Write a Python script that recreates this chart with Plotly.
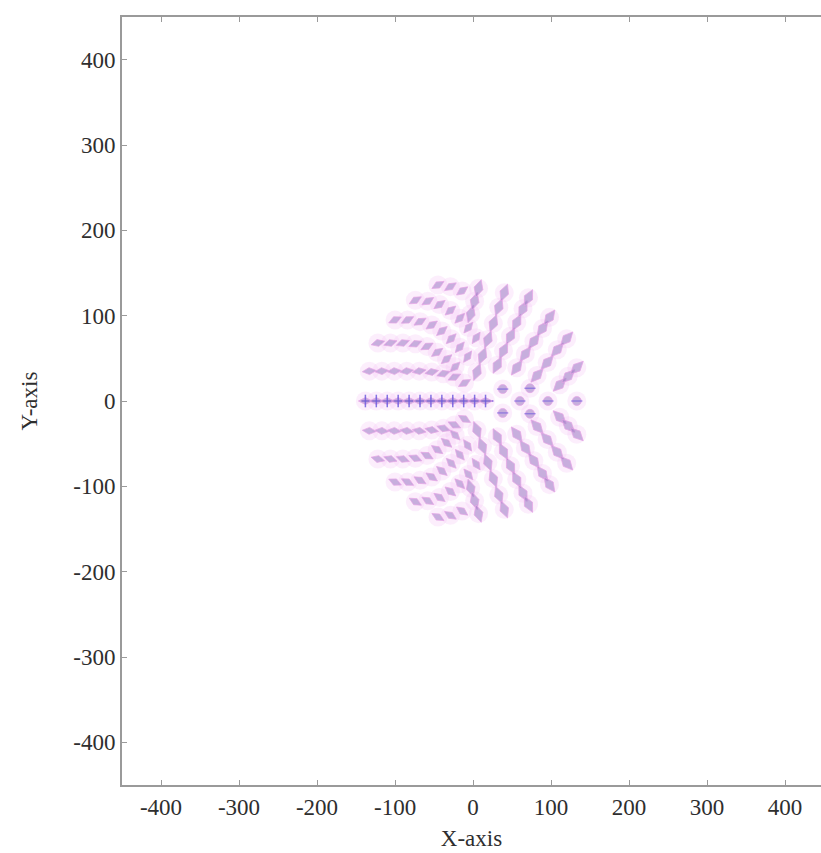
import plotly.graph_objects as go

# ---------------- data ----------------
# Centre row (y = 0), left part: dots threaded on a line
center_left_x = [-138, -124, -110, -96, -82, -68, -54, -40, -26, -12, 2, 16]
center_left_y = [0, 0, 0, 0, 0, 0, 0, 0, 0, 0, 0, 0]
center_line_x = [-143, 26]
center_line_y = [0, 0]

# Right side near the equator: round ellipses in a staggered lattice
round_x = [60, 96, 133, 38, 73, 38, 73]
round_y = [0, 0, 0, 14, 15, -14, -15]

# Left-side rows, upper half (x, y, ellipse orientation in degrees)
left_up_x = [-133, -117, -101, -85, -69, -53, -38, -24, -11,
             -122, -106, -90, -74, -59, -46, -34, -23,
             -100, -84, -68, -53, -40, -28, -17, -7,
             -74, -58, -43, -29, -17, -6, 4,
             -45, -29, -14]
left_up_y = [35, 35, 35, 35, 35, 34, 32, 28, 21,
             68, 68, 68, 67, 64, 57, 49, 40,
             95, 95, 93, 89, 82, 73, 63, 52,
             118, 117, 113, 106, 97, 86, 74,
             136, 134, 129]
left_up_dir = [5, 5, 5, 8, 10, 12, 18, 25, 30,
               15, 18, 20, 22, 28, 35, 40, 45,
               25, 28, 30, 35, 40, 45, 50, 55,
               30, 32, 36, 40, 45, 50, 55,
               30, 33, 36]

# Left-side rows, lower half
left_dn_x = [-133, -117, -101, -85, -69, -53, -38, -24, -11,
             -122, -106, -90, -74, -59, -46, -34, -23,
             -100, -84, -68, -53, -40, -28, -17, -7,
             -74, -58, -43, -29, -17, -6, 4,
             -45, -29, -14]
left_dn_y = [-35, -35, -35, -35, -35, -34, -32, -28, -21,
             -68, -68, -68, -67, -64, -57, -49, -40,
             -95, -95, -93, -89, -82, -73, -63, -52,
             -118, -117, -113, -106, -97, -86, -74,
             -136, -134, -129]
left_dn_dir = [-5, -5, -5, -8, -10, -12, -18, -25, -30,
               -15, -18, -20, -22, -28, -35, -40, -45,
               -25, -28, -30, -35, -40, -45, -50, -55,
               -30, -32, -36, -40, -45, -50, -55,
               -30, -33, -36]

# Right-side streaks, upper half
streak_up_x = [-3, 2, 7,
               5, 12, 19, 26, 33, 40,
               31, 39, 48, 56, 64, 71,
               56, 67, 78, 89, 98,
               82, 95, 108, 120,
               111, 122, 133]
streak_up_y = [102, 117, 132,
               34, 53, 72, 91, 110, 127,
               42, 59, 76, 92, 108, 121,
               39, 55, 70, 85, 98,
               30, 45, 60, 73,
               19, 29, 39]
streak_up_dir = [73, 73, 73,
                 69, 69, 69, 69, 69, 69,
                 63, 63, 63, 63, 63, 63,
                 54, 54, 54, 54, 54,
                 48, 48, 48, 48,
                 45, 45, 45]

# Right-side streaks, lower half
streak_dn_x = [-3, 2, 7,
               5, 12, 19, 26, 33, 40,
               31, 39, 48, 56, 64, 71,
               56, 67, 78, 89, 98,
               82, 95, 108, 120,
               111, 122, 133]
streak_dn_y = [-102, -117, -132,
               -34, -53, -72, -91, -110, -127,
               -42, -59, -76, -92, -108, -121,
               -39, -55, -70, -85, -98,
               -30, -45, -60, -73,
               -19, -29, -39]
streak_dn_dir = [-73, -73, -73,
                 -69, -69, -69, -69, -69, -69,
                 -63, -63, -63, -63, -63, -63,
                 -54, -54, -54, -54, -54,
                 -48, -48, -48, -48,
                 -45, -45, -45]

x_ticks = [-400, -300, -200, -100, 0, 100, 200, 300, 400]
x_tick_text = ["-400", "-300", "-200", "-100", "0", "100", "200", "300", "400"]
y_ticks = [-400, -300, -200, -100, 0, 100, 200, 300, 400]
y_tick_text = ["-400", "-300", "-200", "-100", "0", "100", "200", "300", "400"]

# ---------------- styles ----------------
HALO = "rgba(245,198,245,0.30)"
FILL = "rgba(160,128,198,0.58)"
EDGE = "rgba(230,165,230,0.72)"
LINE = "rgba(112,92,222,0.85)"
FONT = "Liberation Serif, Times New Roman, serif"
TXT = "#2e2e2e"

all_x = center_left_x + round_x + left_up_x + left_dn_x + streak_up_x + streak_dn_x
all_y = center_left_y + round_y + left_up_y + left_dn_y + streak_up_y + streak_dn_y

fig = go.Figure()

# soft pink haze around every ellipse
fig.add_trace(go.Scatter(x=all_x, y=all_y, mode="markers", hoverinfo="skip",
                         marker=dict(symbol="circle", size=19, color=HALO, line=dict(width=0))))

# left-side ellipses
fig.add_trace(go.Scatter(
    x=left_up_x + left_dn_x, y=left_up_y + left_dn_y, mode="markers",
    marker=dict(symbol="diamond-wide", size=10, color=FILL,
                angle=[-d for d in left_up_dir + left_dn_dir],
                line=dict(color=EDGE, width=1))))

# right-side streak ellipses (elongated, overlapping)
fig.add_trace(go.Scatter(
    x=streak_up_x + streak_dn_x, y=streak_up_y + streak_dn_y, mode="markers",
    marker=dict(symbol="diamond-wide", size=13, color=FILL,
                angle=[-d for d in streak_up_dir + streak_dn_dir],
                line=dict(color=EDGE, width=1))))

# near-equator round ellipses
fig.add_trace(go.Scatter(
    x=round_x, y=round_y, mode="markers",
    marker=dict(symbol="circle", size=9, color=FILL, line=dict(color=EDGE, width=1))))
fig.add_trace(go.Scatter(
    x=round_x, y=round_y, mode="markers",
    marker=dict(symbol="line-ew", size=8, line=dict(color=LINE, width=1))))

# centre row line with cross ticks
fig.add_trace(go.Scatter(x=center_line_x, y=center_line_y, mode="lines",
                         line=dict(color=LINE, width=2), hoverinfo="skip"))
fig.add_trace(go.Scatter(
    x=center_left_x, y=center_left_y, mode="markers",
    marker=dict(symbol="diamond-wide", size=10, color=FILL,
                line=dict(color=EDGE, width=1))))
fig.add_trace(go.Scatter(
    x=center_left_x, y=center_left_y, mode="markers",
    marker=dict(symbol="line-ns", size=9, line=dict(color=LINE, width=1.5))))

axis_common = dict(
    showgrid=False, zeroline=False, showline=True, linecolor="#9a9a9a", linewidth=2,
    ticks="inside", ticklen=5, tickwidth=1, tickcolor="#9a9a9a",
    tickfont=dict(family=FONT, size=23, color=TXT),
)

fig.update_layout(
    width=821, height=853,
    margin=dict(l=122, r=0, t=17, b=68),
    paper_bgcolor="white", plot_bgcolor="white",
    showlegend=False,
    xaxis=dict(range=[-450, 446], tickvals=x_ticks, ticktext=x_tick_text, mirror="ticks",
               title=dict(text="X-axis", font=dict(family=FONT, size=23, color=TXT), standoff=11),
               **axis_common),
    yaxis=dict(range=[-450, 450], tickvals=y_ticks, ticktext=y_tick_text, mirror=False,
               title=dict(text="Y-axis", font=dict(family=FONT, size=23, color=TXT), standoff=29),
               **axis_common),
)

fig.write_html("out.html")
